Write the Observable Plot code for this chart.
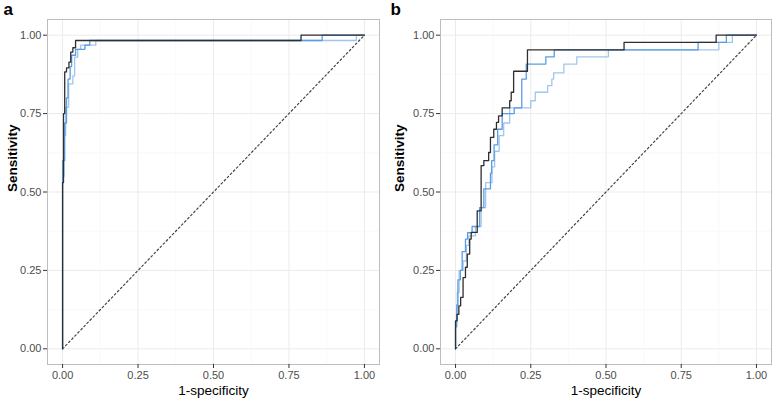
<!DOCTYPE html>
<html><head><meta charset="utf-8">
<script src="https://cdn.jsdelivr.net/npm/d3@7"></script>
<script src="https://cdn.jsdelivr.net/npm/@observablehq/plot@0.6"></script>
<style>
body{margin:0;background:#fff}
#wrap{display:flex;width:774px;height:400px}
#wrap svg{display:block}
</style>
</head><body><div id="wrap"></div>
<script>
// axis ticks
const axisTicks = [0, 0.25, 0.5, 0.75, 1];
const minorTicks = [0.125, 0.375, 0.625, 0.875];
const chanceLine = [0, 1];
const panelLetters = ["a", "b"];
const xTitle = "1-specificity";
const yTitle = "Sensitivity";

// Panel a — ROC step corners (fpr, sensitivity)
const aBlackFpr  = [0, 0.003, 0.007, 0.013, 0.021, 0.027, 0.034, 0.043, 0.79, 1];
const aBlackSens = [0, 0.53, 0.75, 0.883, 0.896, 0.914, 0.946, 0.96, 0.983, 1];
const aBlue1Fpr  = [0, 0.007, 0.013, 0.018, 0.025, 0.03, 0.043, 0.074, 0.09, 0.86, 1];
const aBlue1Sens = [0, 0.60, 0.72, 0.80, 0.86, 0.90, 0.936, 0.955, 0.968, 0.983, 1];
const aBlue2Fpr  = [0, 0.005, 0.01, 0.02, 0.034, 0.04, 0.05, 0.06, 0.11, 0.973, 1];
const aBlue2Sens = [0, 0.55, 0.68, 0.77, 0.845, 0.87, 0.93, 0.955, 0.968, 0.983, 1];

// Panel b
const bBlackFpr  = [0, 0.005, 0.011, 0.017, 0.025, 0.033, 0.039, 0.047, 0.052, 0.072, 0.085, 0.094, 0.11, 0.116, 0.127, 0.136, 0.143, 0.155, 0.18, 0.185, 0.193, 0.239, 0.56, 0.866, 1];
const bBlackSens = [0, 0.089, 0.11, 0.137, 0.164, 0.227, 0.26, 0.302, 0.35, 0.371, 0.44, 0.584, 0.60, 0.626, 0.674, 0.70, 0.722, 0.743, 0.768, 0.791, 0.818, 0.885, 0.953, 0.977, 1];
const bBlue1Fpr  = [0, 0.004, 0.008, 0.016, 0.022, 0.033, 0.04, 0.055, 0.08, 0.094, 0.116, 0.12, 0.128, 0.14, 0.155, 0.195, 0.22, 0.235, 0.30, 0.328, 0.806, 0.90, 1];
const bBlue1Sens = [0, 0.07, 0.14, 0.22, 0.25, 0.31, 0.35, 0.37, 0.39, 0.45, 0.51, 0.56, 0.60, 0.65, 0.70, 0.75, 0.768, 0.86, 0.908, 0.931, 0.953, 0.977, 1];
const bBlue2Fpr  = [0, 0.006, 0.012, 0.025, 0.036, 0.044, 0.066, 0.085, 0.1, 0.121, 0.13, 0.145, 0.16, 0.18, 0.25, 0.265, 0.306, 0.32, 0.326, 0.36, 0.403, 0.508, 0.875, 0.92, 1];
const bBlue2Sens = [0, 0.09, 0.18, 0.25, 0.28, 0.33, 0.36, 0.39, 0.45, 0.53, 0.58, 0.63, 0.68, 0.72, 0.768, 0.791, 0.818, 0.839, 0.86, 0.88, 0.908, 0.931, 0.953, 0.977, 1];

const colBlack = "#2f2f2f", colBlue1 = "#5d9ce0", colBlue2 = "#a0c6ee";

const zip = (xs, ys) => xs.map((x, i) => ({x, y: ys[i]}));

function panel(letter, curves, ml, mr) {
  const mt = 19, mb = 36;
  return Plot.plot({
    width: 387, height: 400,
    marginLeft: ml, marginRight: mr, marginTop: mt, marginBottom: mb,
    x: {domain: [-0.05, 1.05]},
    y: {domain: [-0.05, 1.05]},
    style: {fontFamily: "'Liberation Sans', Arial, sans-serif", fontSize: "11px", background: "#fff"},
    marks: [
      Plot.gridX(minorTicks, {stroke: "#f5f5f5", strokeOpacity: 1, strokeWidth: 0.6}),
      Plot.gridY(minorTicks, {stroke: "#f5f5f5", strokeOpacity: 1, strokeWidth: 0.6}),
      Plot.gridX(axisTicks, {stroke: "#ebebeb", strokeOpacity: 1, strokeWidth: 1}),
      Plot.gridY(axisTicks, {stroke: "#ebebeb", strokeOpacity: 1, strokeWidth: 1}),
      Plot.line(chanceLine, {x: d => d, y: d => d, stroke: "#444", strokeWidth: 1.2, strokeDasharray: "1.8,2.6"}),
      ...curves.map(c => Plot.line(zip(c.fpr, c.sens), {x: "x", y: "y", curve: "step-before", stroke: c.color, strokeWidth: 1.3})),
      Plot.frame({stroke: "#bdbdbd", strokeWidth: 1}),
      Plot.axisX(axisTicks, {tickFormat: d3.format(".2f"), tickSize: 4, tickPadding: 3, stroke: "#333", fill: "#4d4d4d", fontSize: 11, label: null}),
      Plot.axisY(axisTicks, {tickFormat: d3.format(".2f"), tickSize: 4, tickPadding: 2, stroke: "#333", fill: "#4d4d4d", fontSize: 11, label: null}),
      Plot.text([letter], {frameAnchor: "top-left", dx: 3 - ml, dy: 14 - mt, textAnchor: "start", lineAnchor: "bottom", fontWeight: "bold", fontSize: 17, fill: "#000"}),
      Plot.text([xTitle], {frameAnchor: "bottom", dy: 30, lineAnchor: "bottom", fontSize: 13.5, fill: "#000"}),
      Plot.text([yTitle], {frameAnchor: "left", dx: 12 - ml, rotate: -90, lineAnchor: "middle", fontSize: 13.5, fontWeight: "bold", fill: "#000"})
    ]
  });
}

const wrap = document.getElementById("wrap");
wrap.append(panel(panelLetters[0], [
  {fpr: aBlue2Fpr, sens: aBlue2Sens, color: colBlue2},
  {fpr: aBlue1Fpr, sens: aBlue1Sens, color: colBlue1},
  {fpr: aBlackFpr, sens: aBlackSens, color: colBlack}
], 47, 8));
wrap.append(panel(panelLetters[1], [
  {fpr: bBlue2Fpr, sens: bBlue2Sens, color: colBlue2},
  {fpr: bBlue1Fpr, sens: bBlue1Sens, color: colBlue1},
  {fpr: bBlackFpr, sens: bBlackSens, color: colBlack}
], 53, 3));
</script>
</body></html>
